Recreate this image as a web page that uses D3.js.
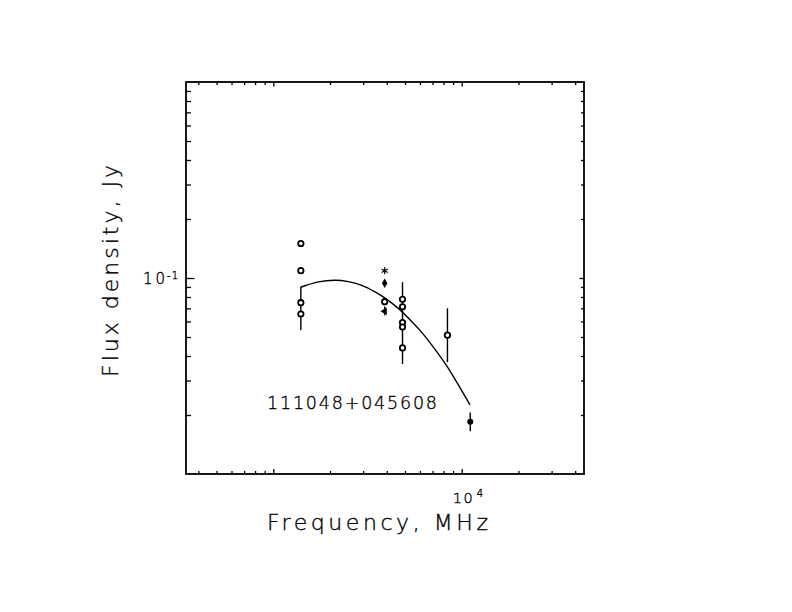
<!DOCTYPE html>
<html>
<head>
<meta charset="utf-8">
<script src="https://cdn.jsdelivr.net/npm/d3@7"></script>
<style>
  body { margin: 0; background: #fff; }
  svg text { font-family: "DejaVu Sans", sans-serif; font-weight: 200; fill: #000; stroke: #000; stroke-width: 0.35; }
</style>
</head>
<body>
<svg id="canvas" width="792" height="612"></svg>
<script>
// Data
const openFreq = [1400, 1400, 1400, 1400, 3900, 4850, 4850, 4850, 4850, 4850, 8400];
const openFlux = [0.150, 0.109, 0.0748, 0.0655, 0.0757, 0.0778, 0.0713, 0.0593, 0.0562, 0.0440, 0.0511];

const starFreq = [3900];
const starFlux = [0.109];
const diamondFreq = [3900];
const diamondFlux = [0.0940];
const triFreq = [3900];
const triFlux = [0.0676];
const dotFreq = [11100];
const dotFlux = [0.0185];

// error bars (vertical), low/high flux
const errFreq = [1400, 3900, 4850, 8400, 11100];
const errLo   = [0.0543, 0.0645, 0.0364, 0.0372, 0.0165];
const errHi   = [0.0897, 0.0715, 0.0952, 0.0701, 0.0206];

// fitted spectrum
const fitFreq = [1391, 1473, 1734, 2126, 2500, 2946, 3466, 3917, 4607, 5428, 6135, 7069, 8326, 9408, 11066];
const fitFlux = [0.0895, 0.0913, 0.0956, 0.0974, 0.0959, 0.0917, 0.0850, 0.0790, 0.0700, 0.0600, 0.0528, 0.0444, 0.0356, 0.0294, 0.0225];

const xMajor = [1000, 10000];
const xMinor = [400, 500, 600, 700, 800, 900, 2000, 3000, 4000, 5000, 6000, 7000, 8000, 9000, 20000, 30000, 40000];
const yMajor = [0.1];
const yMinor = [0.02, 0.03, 0.04, 0.05, 0.06, 0.07, 0.08, 0.09, 0.2, 0.3, 0.4, 0.5, 0.6, 0.7, 0.8, 0.9];

const sourceName = "111048+045608";

const svg = d3.select("#canvas");
const plotL = 186, plotR = 584, plotT = 82, plotB = 474;

const x = d3.scaleLog().domain([344, 44570]).range([plotL, plotR]);
const y = d3.scaleLog().domain([0.01, 1]).range([plotB, plotT]);

// --- axes: inward ticks on all four sides ---
function addAxis(axis, tx, ty) {
  const g = svg.append("g").attr("transform", `translate(${tx},${ty})`).call(axis);
  g.select(".domain").remove();
  g.selectAll("line").attr("stroke", "#000").attr("stroke-width", 1.3);
  return g;
}
addAxis(d3.axisBottom(x).tickValues(xMinor).tickSize(-3).tickFormat(""), 0, plotB);
addAxis(d3.axisBottom(x).tickValues(xMajor).tickSize(-5).tickFormat(""), 0, plotB);
addAxis(d3.axisTop(x).tickValues(xMinor).tickSize(-3).tickFormat(""), 0, plotT);
addAxis(d3.axisTop(x).tickValues(xMajor).tickSize(-4.5).tickFormat(""), 0, plotT);
addAxis(d3.axisLeft(y).tickValues(yMinor).tickSize(-5).tickFormat(""), plotL, 0);
addAxis(d3.axisLeft(y).tickValues(yMajor).tickSize(-8.5).tickFormat(""), plotL, 0);
addAxis(d3.axisRight(y).tickValues(yMinor).tickSize(-3).tickFormat(""), plotR, 0);
addAxis(d3.axisRight(y).tickValues(yMajor).tickSize(-4.5).tickFormat(""), plotR, 0);

// frame
svg.append("rect")
  .attr("x", plotL).attr("y", plotT)
  .attr("width", plotR - plotL).attr("height", plotB - plotT)
  .attr("fill", "none").attr("stroke", "#000").attr("stroke-width", 1.8);

// tick labels (power of ten)
xMajor.filter(d => d === 10000).forEach(d => {
  svg.append("text").attr("x", x(d) - 9).attr("y", 503).attr("font-size", 14.5)
    .attr("textLength", 20).attr("lengthAdjust", "spacing").text("10");
  svg.append("text").attr("x", x(d) + 15).attr("y", 497).attr("font-size", 10)
    .text(Math.round(Math.log10(d)));
});
yMajor.forEach(d => {
  svg.append("text").attr("x", 143).attr("y", y(d) + 5.5).attr("font-size", 15)
    .attr("textLength", 22).attr("lengthAdjust", "spacing").text("10");
  svg.append("text").attr("x", 167).attr("y", y(d) + 0.5).attr("font-size", 10)
    .attr("textLength", 11).attr("lengthAdjust", "spacing")
    .text("-" + Math.abs(Math.round(Math.log10(d))));
});

// axis titles
svg.append("text")
  .attr("x", 267).attr("y", 530)
  .attr("font-size", 22)
  .attr("textLength", 221).attr("lengthAdjust", "spacing")
  .text("Frequency, MHz");

svg.append("text")
  .attr("transform", "translate(118,377) rotate(-90)")
  .attr("font-size", 22)
  .attr("textLength", 212).attr("lengthAdjust", "spacing")
  .text("Flux density, Jy");

svg.append("text")
  .attr("x", 267).attr("y", 409)
  .attr("font-size", 17.5)
  .attr("textLength", 170).attr("lengthAdjust", "spacing")
  .text(sourceName);

// --- fitted curve ---
const fitPts = fitFreq.map((f, i) => ({ f, s: fitFlux[i] }));
svg.append("path")
  .datum(fitPts)
  .attr("fill", "none").attr("stroke", "#000").attr("stroke-width", 1.4)
  .attr("d", d3.line().curve(d3.curveCatmullRom).x(d => x(d.f)).y(d => y(d.s)));

// --- error bars ---
svg.selectAll(".err")
  .data(errFreq.map((f, i) => ({ f, lo: errLo[i], hi: errHi[i] })))
  .enter().append("line")
  .attr("class", "err")
  .attr("x1", d => x(d.f)).attr("x2", d => x(d.f))
  .attr("y1", d => y(d.lo)).attr("y2", d => y(d.hi))
  .attr("stroke", "#000").attr("stroke-width", 1.4);

// --- markers ---
svg.selectAll(".open")
  .data(openFreq.map((f, i) => ({ f, s: openFlux[i] })))
  .enter().append("circle")
  .attr("cx", d => x(d.f)).attr("cy", d => y(d.s)).attr("r", 2.7)
  .attr("fill", "#fff").attr("stroke", "#000").attr("stroke-width", 1.8);

svg.selectAll(".dot")
  .data(dotFreq.map((f, i) => ({ f, s: dotFlux[i] })))
  .enter().append("circle")
  .attr("cx", d => x(d.f)).attr("cy", d => y(d.s)).attr("r", 3)
  .attr("fill", "#000");

svg.selectAll(".diamond")
  .data(diamondFreq.map((f, i) => ({ f, s: diamondFlux[i] })))
  .enter().append("path")
  .attr("transform", d => `translate(${x(d.f)},${y(d.s)})`)
  .attr("d", d3.symbol(d3.symbolDiamond, 26)())
  .attr("fill", "#000");

svg.selectAll(".tri")
  .data(triFreq.map((f, i) => ({ f, s: triFlux[i] })))
  .enter().append("path")
  .attr("transform", d => `translate(${x(d.f)},${y(d.s)}) rotate(-90)`)
  .attr("d", d3.symbol(d3.symbolTriangle, 24)())
  .attr("fill", "#000");

svg.selectAll(".star")
  .data(starFreq.map((f, i) => ({ f, s: starFlux[i] })))
  .enter().append("path")
  .attr("transform", d => `translate(${x(d.f)},${y(d.s)})`)
  .attr("d", d3.symbol(d3.symbolAsterisk, 34)())
  .attr("fill", "none").attr("stroke", "#000").attr("stroke-width", 1.2);
</script>
</body>
</html>
